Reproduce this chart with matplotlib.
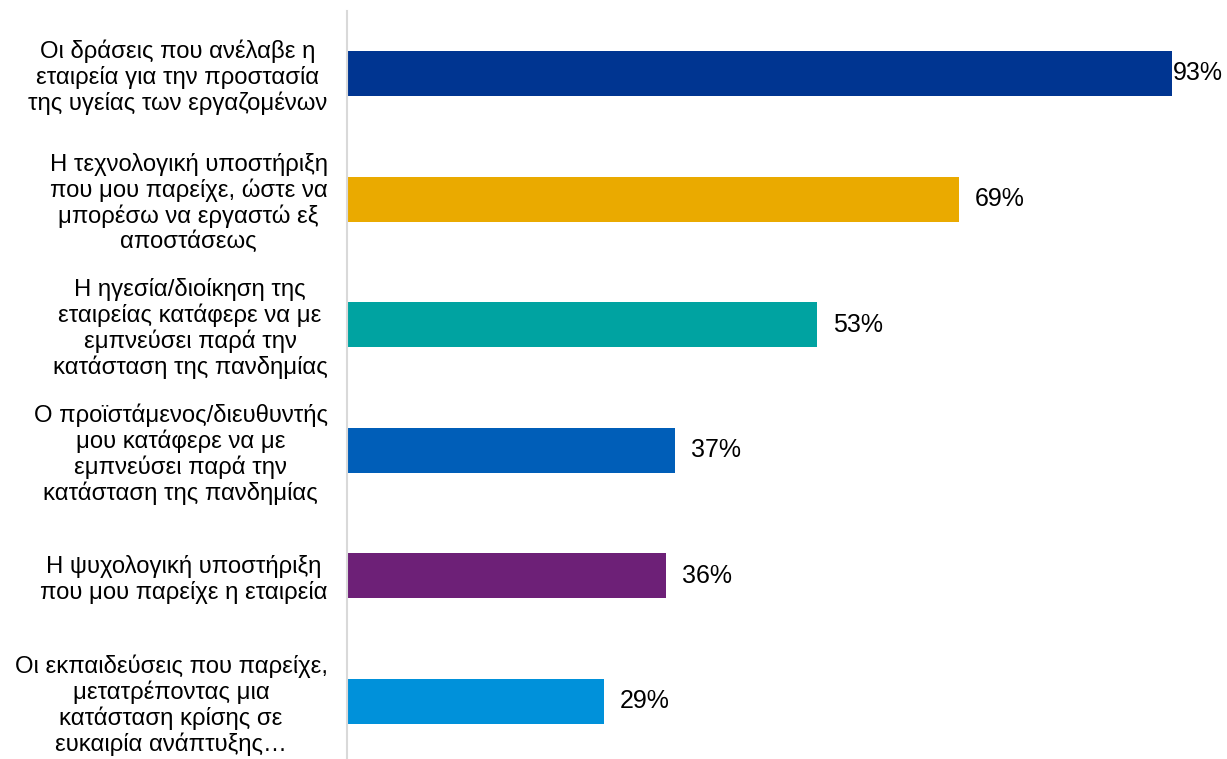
import matplotlib.pyplot as plt

plt.rcParams['font.family'] = ['Liberation Sans', 'DejaVu Sans']

categories = [
    "Οι δράσεις που ανέλαβε η\nεταιρεία για την προστασία\nτης υγείας των εργαζομένων",
    "Η τεχνολογική υποστήριξη\nπου μου παρείχε, ώστε να\nμπορέσω να εργαστώ εξ\nαποστάσεως",
    "Η ηγεσία/διοίκηση της\nεταιρείας κατάφερε να με\nεμπνεύσει παρά την\nκατάσταση της πανδημίας",
    "Ο προϊστάμενος/διευθυντής\nμου κατάφερε να με\nεμπνεύσει παρά την\nκατάσταση της πανδημίας",
    "Η ψυχολογική υποστήριξη\nπου μου παρείχε η εταιρεία",
    "Οι εκπαιδεύσεις που παρείχε,\nμετατρέποντας μια\nκατάσταση κρίσης σε\nευκαιρία ανάπτυξης…",
]
values = [93, 69, 53, 37, 36, 29]
colors = ["#003591", "#EAAA00", "#00A3A1", "#005EB8", "#6D2077", "#0091DA"]

W, H = 1227, 759
fig = plt.figure(figsize=(W / 100, H / 100), dpi=100)
# plot area: 6 rows of ~125.6 px starting at y=10.7 from the top
ax = fig.add_axes([347 / W, -5.3 / H, 880 / W, 753.6 / H])

y = list(range(len(values)))
ax.barh(y, values, height=0.358, color=colors)
ax.set_ylim(len(values) - 0.5, -0.5)
ax.set_xlim(0, 880 / 8.87)

for sp in ["top", "right", "bottom"]:
    ax.spines[sp].set_visible(False)
ax.spines["left"].set_color("#D9D9D9")
ax.spines["left"].set_linewidth(1.5)
ax.set_xticks([])
ax.set_yticks(y)
ax.set_yticklabels(categories, fontsize=17.2, ha="right", multialignment="center",
                   linespacing=1.13)
ax.tick_params(axis="y", length=0, pad=14)

for i, v in enumerate(values):
    if v > 90:
        ax.annotate(f"{v}%", xy=(1, i), xycoords=("axes fraction", "data"),
                    xytext=(-4, 0), textcoords="offset pixels",
                    ha="right", va="center", fontsize=18)
    else:
        ax.annotate(f"{v}%", xy=(v, i), xytext=(16, 0), textcoords="offset pixels",
                    ha="left", va="center", fontsize=18)

fig.savefig("out.png", dpi=100)
